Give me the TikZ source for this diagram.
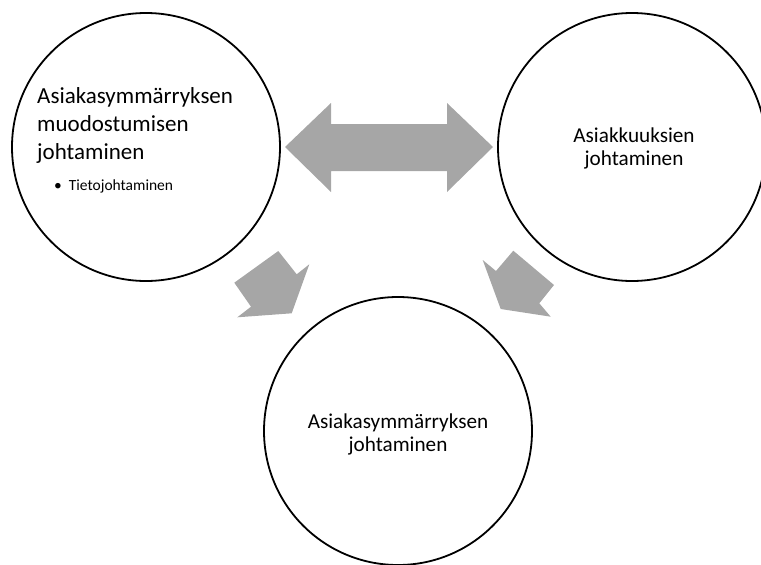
\documentclass[tikz,border=0pt]{standalone}
\usepackage{fontspec}
\setmainfont{Carlito}
\definecolor{arrowgray}{RGB}{166,166,166}
\begin{document}
\begin{tikzpicture}[x=1pt,y=-1pt,
  ring/.style={draw=black,line width=1.8pt,fill=none},
  blockarrow/.style={fill=arrowgray,draw=none},
  bigtext/.style={font=\fontsize{23}{28}\selectfont,inner sep=0pt},
  midtext/.style={font=\fontsize{21.2}{23.5}\selectfont,inner sep=0pt,align=center},
  smalltext/.style={font=\fontsize{15.5}{18}\selectfont,inner sep=0pt}]
  \useasboundingbox (0,0) rectangle (761,565);
  % three circles
  \draw[ring] (146,147) circle[radius=134];
  \draw[ring] (632,147) circle[radius=134];
  \draw[ring] (398,431) circle[radius=134];
  % double-headed block arrow between the upper circles
  \fill[blockarrow] (285,147) -- (331,103) -- (331,124) -- (447,124) -- (447,103)
    -- (493,147) -- (447,192) -- (447,171) -- (331,171) -- (331,192) -- cycle;
  % block arrows pointing to the lower circle
  \fill[blockarrow] (234.3,282.7) -- (278.3,251) -- (296.7,274.3) -- (309.3,264.3)
    -- (291.7,313.3) -- (237.3,317.3) -- (251,306.7) -- cycle;
  \fill[blockarrow] (482.7,260) -- (496,271) -- (513.3,250.7) -- (554,285)
    -- (539.3,303.3) -- (550.7,316.7) -- (500.7,309) -- cycle;
  % labels
  \node[bigtext,anchor=base west] (l1) at (37,103) {Asiakasymmärryksen};
  \node[bigtext,anchor=base west] (l2) at (37,131) {muodostumisen};
  \node[bigtext,anchor=base west] (l3) at (37,159) {johtaminen};
  \node[smalltext,anchor=base west] (lb) at (54,190) {•\hspace{0.45em}Tietojohtaminen};
  \node[midtext,anchor=base] (r1) at (634,142) {Asiakkuuksien};
  \node[midtext,anchor=base] (r2) at (634,165.5) {johtaminen};
  \node[midtext,anchor=base] (b1) at (398,428) {Asiakasymmärryksen};
  \node[midtext,anchor=base] (b2) at (398,451.5) {johtaminen};
\end{tikzpicture}
\end{document}
